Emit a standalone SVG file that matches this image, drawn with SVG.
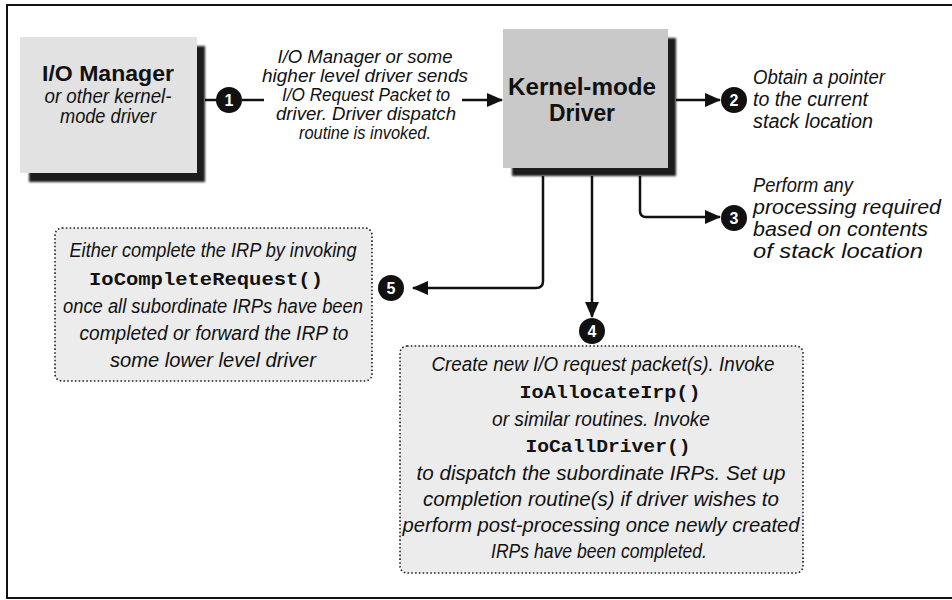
<svg xmlns="http://www.w3.org/2000/svg" width="952" height="600" viewBox="0 0 952 600">
<style>
.it{font-family:"Liberation Sans",Arial,sans-serif;font-style:italic;font-size:19.5px;fill:#111}
.it18{font-size:18px}
.tb{font-family:"Liberation Sans",Arial,sans-serif;font-weight:bold;fill:#111;text-anchor:middle}
.mono{font-family:"Liberation Mono","Courier New",monospace;font-weight:bold;font-size:17.5px;fill:#111;text-anchor:middle}
.num{font-family:"Liberation Sans",Arial,sans-serif;font-weight:bold;font-size:16px;fill:#fff;text-anchor:middle}
.mid{text-anchor:middle}
.conn{fill:none;stroke:#111;stroke-width:2.5}
.shadow{fill:#1c1c1c;filter:url(#blur)}
.dotbox{fill:#ececec;stroke:#222;stroke-width:1.6;stroke-dasharray:1.6 2.2}
</style>
<defs>
<filter id="blur" x="-10%" y="-10%" width="120%" height="120%"><feGaussianBlur stdDeviation="1.2"/></filter>
<marker id="ah" markerUnits="userSpaceOnUse" markerWidth="16" markerHeight="14" refX="15" refY="7" orient="auto">
<path d="M0,0 L16,7 L0,14 Z" fill="#111"/>
</marker>
</defs>
<rect width="952" height="600" fill="#fff"/>
<path d="M952,5 H7 V598 H952" fill="none" stroke="#111" stroke-width="2"/>

<g id="io-manager">
<rect class="shadow" x="29" y="46" width="176" height="136"/>
<rect x="20" y="37" width="177" height="136" fill="#e2e2e2"/>
<text class="tb" x="108" y="81" font-size="22" textLength="132" lengthAdjust="spacingAndGlyphs">I/O Manager</text>
<text class="it mid" x="108" y="103" textLength="127" lengthAdjust="spacingAndGlyphs">or other kernel-</text>
<text class="it mid" x="108" y="123" textLength="96" lengthAdjust="spacingAndGlyphs">mode driver</text>
</g>

<g id="kernel-driver">
<rect class="shadow" x="512" y="38" width="164" height="138"/>
<rect x="503" y="29" width="165" height="139" fill="#c9c9c9"/>
<text class="tb" x="582" y="95" font-size="23" textLength="148" lengthAdjust="spacingAndGlyphs">Kernel-mode</text>
<text class="tb" x="582" y="121" font-size="23" textLength="66" lengthAdjust="spacingAndGlyphs">Driver</text>
</g>

<g id="step1-label">
<text class="it it18 mid" x="365" y="63" textLength="175" lengthAdjust="spacingAndGlyphs">I/O Manager or some</text>
<text class="it it18 mid" x="365" y="82" textLength="206" lengthAdjust="spacingAndGlyphs">higher level driver sends</text>
<text class="it it18 mid" x="366" y="101" textLength="168" lengthAdjust="spacingAndGlyphs">I/O Request Packet to</text>
<text class="it it18 mid" x="366" y="120" textLength="180" lengthAdjust="spacingAndGlyphs">driver. Driver dispatch</text>
<text class="it it18 mid" x="365" y="139" textLength="132" lengthAdjust="spacingAndGlyphs">routine is invoked.</text>
</g>

<g id="step2-label">
<text class="it" x="753" y="84" textLength="132" lengthAdjust="spacingAndGlyphs">Obtain a pointer</text>
<text class="it" x="753" y="106" textLength="115" lengthAdjust="spacingAndGlyphs">to the current</text>
<text class="it" x="753" y="128" textLength="120" lengthAdjust="spacingAndGlyphs">stack location</text>
</g>

<g id="step3-label">
<text class="it" x="753" y="192" textLength="100" lengthAdjust="spacingAndGlyphs">Perform any</text>
<text class="it" x="753" y="214" textLength="188" lengthAdjust="spacingAndGlyphs">processing required</text>
<text class="it" x="753" y="236" textLength="175" lengthAdjust="spacingAndGlyphs">based on contents</text>
<text class="it" x="753" y="258" textLength="170" lengthAdjust="spacingAndGlyphs">of stack location</text>
</g>

<g id="step5-box">
<rect class="dotbox" x="55" y="228" width="317" height="153" rx="7"/>
<text class="it mid" x="213" y="257" textLength="287" lengthAdjust="spacingAndGlyphs">Either complete the IRP by invoking</text>
<text class="mono" x="206" y="285" textLength="234" lengthAdjust="spacingAndGlyphs">IoCompleteRequest()</text>
<text class="it mid" x="213" y="313" textLength="300" lengthAdjust="spacingAndGlyphs">once all subordinate IRPs have been</text>
<text class="it mid" x="214" y="340" textLength="269" lengthAdjust="spacingAndGlyphs">completed or forward the IRP to</text>
<text class="it mid" x="213" y="367" textLength="206" lengthAdjust="spacingAndGlyphs">some lower level driver</text>
</g>

<g id="step4-box">
<rect class="dotbox" x="400" y="346" width="403" height="227" rx="7"/>
<text class="it mid" x="603" y="371" textLength="343" lengthAdjust="spacingAndGlyphs">Create new I/O request packet(s). Invoke</text>
<text class="mono" x="610" y="398" textLength="181" lengthAdjust="spacingAndGlyphs">IoAllocateIrp()</text>
<text class="it mid" x="601" y="426" textLength="218" lengthAdjust="spacingAndGlyphs">or similar routines. Invoke</text>
<text class="mono" x="608" y="452" textLength="165" lengthAdjust="spacingAndGlyphs">IoCallDriver()</text>
<text class="it mid" x="601" y="480" textLength="369" lengthAdjust="spacingAndGlyphs">to dispatch the subordinate IRPs. Set up</text>
<text class="it mid" x="601" y="506" textLength="356" lengthAdjust="spacingAndGlyphs">completion routine(s) if driver wishes to</text>
<text class="it mid" x="601" y="532" textLength="397" lengthAdjust="spacingAndGlyphs">perform post-processing once newly created</text>
<text class="it mid" x="599" y="558" textLength="216" lengthAdjust="spacingAndGlyphs">IRPs have been completed.</text>
</g>

<g id="connectors">
<path class="conn" d="M205,100 H217"/>
<path class="conn" d="M242,100 H264"/>
<path class="conn" d="M462,100 H502" marker-end="url(#ah)"/>
<path class="conn" d="M676,100 H720" marker-end="url(#ah)"/>
<path class="conn" d="M640,176 V211 Q640,217 646,217 H720" marker-end="url(#ah)"/>
<path class="conn" d="M543,176 V281 Q543,288 536,288 H413" marker-end="url(#ah)"/>
<path class="conn" d="M592,176 V317" marker-end="url(#ah)"/>
</g>

<g id="badge1"><circle cx="229" cy="100" r="13" fill="#111"/><text class="num" x="229" y="106">1</text></g>
<g id="badge2"><circle cx="734" cy="100" r="13" fill="#111"/><text class="num" x="734" y="106">2</text></g>
<g id="badge3"><circle cx="734" cy="218" r="13" fill="#111"/><text class="num" x="734" y="224">3</text></g>
<g id="badge4"><circle cx="592" cy="331" r="13" fill="#111"/><text class="num" x="592" y="337">4</text></g>
<g id="badge5"><circle cx="391" cy="288" r="13" fill="#111"/><text class="num" x="391" y="294">5</text></g>
</svg>
